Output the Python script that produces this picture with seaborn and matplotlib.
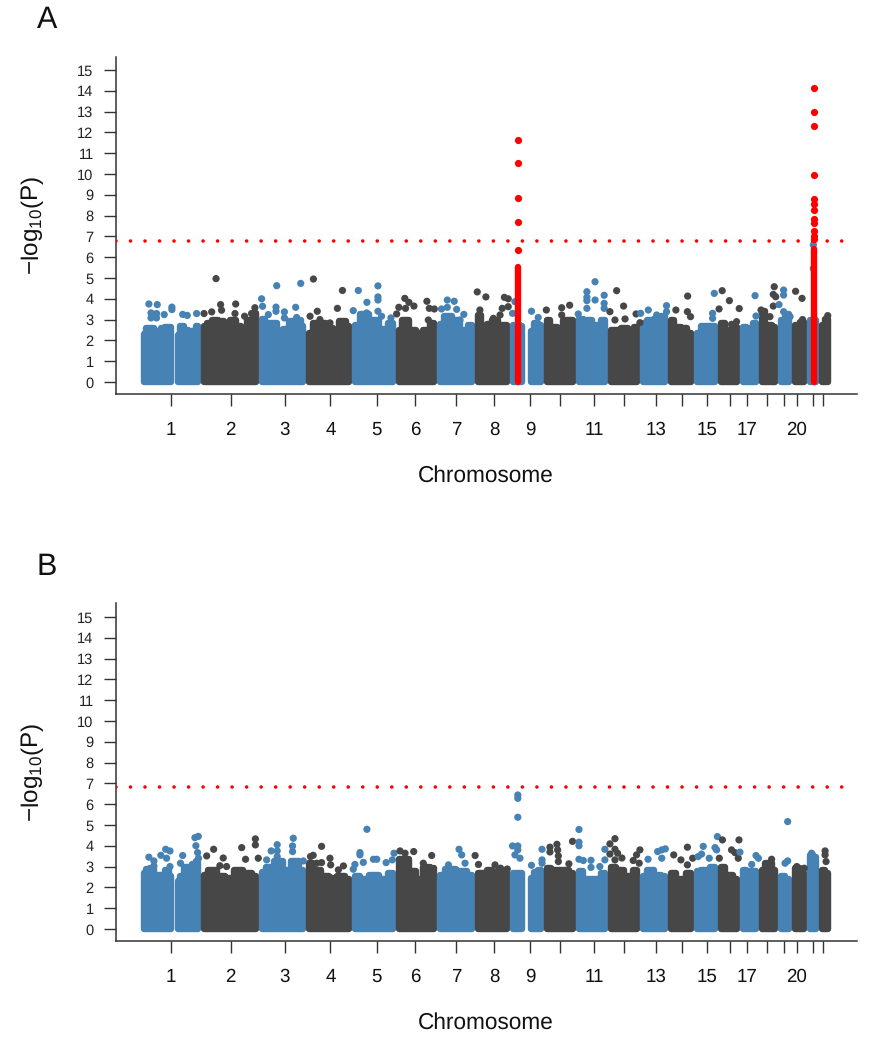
import numpy as np
import pandas as pd
import matplotlib
matplotlib.use("Agg")
import matplotlib.pyplot as plt
import seaborn as sns

# chromosome sizes (Mb), tick positions along the genome (Mb)
chrom_mb = [249, 243, 198, 191, 181, 171, 159, 146, 141, 135, 135, 133, 115, 107, 102, 90, 81, 78, 59, 63, 48, 51]
tick_mb = [125, 374, 599, 790, 982, 1144, 1314, 1473, 1622, 1747, 1889, 2013, 2147, 2255, 2359, 2454, 2525, 2608, 2679, 2733, 2800, 2845]
tick_txt = ["1", "2", "3", "4", "5", "6", "7", "8", "9", "", "11", "", "13", "", "15", "", "17", "", "", "20", "", ""]
threshold = 6.8
nan = float("nan")

# top of the solid mass of SNPs in each chromosome, read left to right (nan = centromere gap)
a_mass = [
    [2.3, 2.6, 2.6, 2.45, 2.45, 2.6, 2.65, 2.65, nan, 2.25, 2.7, 2.5, 2.45, 2.45, 2.7],
    [2.7, 2.85, 3.0, 2.95, 2.75, 3.0, 2.7, 2.3, 3.0, 3.3],
    [3.05, 2.85, 2.85, 2.35, 2.55, 2.95, 3.0, 2.7],
    [2.35, 2.85, 2.85, 2.6, 2.35, 2.95, 2.7],
    [2.75, 3.25, 3.0, 2.55, 2.85],
    [2.5, 3.0, 2.5, 2.35, 2.5, 2.85],
    [2.8, 3.15, 3.0, 2.5, 2.75],
    [3.2, 2.5, 2.8, 3.0, 2.75, 2.75],
    [2.75, 2.75, 2.7, nan, 2.45, 2.85, 2.75],
    [3.0, 2.65, 2.6, 3.0, 3.0],
    [3.05, 3.0, 2.75, 3.0],
    [2.5, 2.5, 2.6, 2.45, 2.65],
    [2.85, 3.0, 3.05, 3.15],
    [3.0, 2.65, 2.6, 2.35],
    [2.35, 2.7, 2.7],
    [2.85, 2.5, 2.65],
    [2.65, 2.6, 2.85],
    [3.4, 2.75, 2.65],
    [3.0, 3.25],
    [2.75, 2.9],
    [3.0, 3.0],
    [2.75, 3.05],
]
b_mass = [
    [2.7, 2.9, 2.95, 2.55, 2.6, 2.6, 2.85, 2.55, nan, 2.3, 2.55, 3.0, 3.0, 3.1, 3.25],
    [2.6, 2.85, 2.55, 2.45, 2.85, 2.7, 2.55],
    [2.75, 3.0, 3.25, 2.85, 3.25, 2.85],
    [3.15, 2.85, 2.55, 2.45, 2.55, 2.4],
    [2.55, 2.4, 2.6, 2.4, 2.7],
    [3.35, 3.35, 2.8, 2.4, 3.0, 2.95],
    [2.6, 2.9, 2.8, 2.6],
    [2.7, 2.7, 2.85, 2.7, 2.85, 2.7],
    [2.7, 2.7, 2.7, nan, 2.45, 2.75, 2.85],
    [2.95, 2.85, 2.85, 2.7],
    [2.8, 2.4, 2.4, 2.7],
    [3.0, 2.85, 2.55, 2.85],
    [2.55, 2.85, 2.6, 2.55],
    [2.7, 2.4, 2.7],
    [2.8, 2.85, 3.0],
    [3.0, 2.6, 2.4],
    [2.85, 2.8, 2.8],
    [2.85, 3.15, 2.85],
    [2.55, 2.4],
    [2.95, 2.7],
    [3.55, 3.45],
    [2.85, 2.7],
]

# single SNPs standing above the mass
a_snp_mb = [33, 68, 42, 65, 42, 65, 97, 129, 129, 174, 193, 232,
            313, 332, 336, 395, 392, 432, 475, 461, 295, 263,
            503, 507, 566, 563, 563, 531, 598, 598, 666, 645, 649,
            719, 819, 735, 705, 840, 885, 746, 788,
            906, 942, 988, 988, 988, 988, 941, 1003, 1042, 1066,
            1100, 1075, 1117, 1138, 1103, 1192, 1202, 1223, 1198,
            1277, 1306, 1253, 1277, 1316, 1346, 1330,
            1402, 1438, 1515, 1531, 1413, 1506, 1531, 1469, 1497,
            1559, 1549, 1628, 1656, 1690, 1754, 1754, 1787, 1823,
            1859, 1859, 1859, 1859, 1893, 1893, 1931, 1931, 1931,
            1983, 1955, 2012, 1976, 2018, 2064, 2083, 2080,
            2115, 2150, 2191, 2191, 2230, 2279, 2278, 2291,
            2390, 2383, 2383, 2423, 2410, 2453, 2462, 2483,
            2494, 2560, 2564, 2585, 2640, 2636, 2646, 2636, 2622,
            2660, 2679, 2679, 2679, 2706, 2729, 2756, 2758, 2803, 2803, 2863]
a_snp_p = [3.75, 3.72, 3.32, 3.29, 3.08, 3.08, 3.24, 3.6, 3.48, 3.25, 3.2, 3.29,
           4.97, 3.72, 3.45, 3.75, 3.29, 3.16, 3.57, 3.29, 3.37, 3.29,
           4.0, 3.64, 4.63, 3.6, 3.4, 3.24, 3.37, 3.08, 4.74, 3.59, 3.1,
           4.95, 3.54, 3.4, 3.16, 4.4, 3.43, 3.0, 2.84,
           4.4, 3.83, 4.62, 4.09, 3.94, 3.4, 3.32, 3.16, 3.08, 3.27,
           4.02, 3.59, 3.83, 3.65, 3.54, 3.88, 3.54, 3.51, 2.98,
           3.94, 3.88, 3.51, 3.59, 3.49, 3.25, 2.98,
           4.33, 4.09, 4.07, 4.0, 3.46, 3.54, 3.62, 3.06, 3.22,
           3.86, 3.3, 3.4, 3.1, 3.46, 3.57, 3.22, 3.69, 3.27,
           4.34, 4.07, 3.91, 3.54, 4.82, 3.94, 4.17, 3.78, 3.54,
           4.39, 3.38, 3.65, 2.98, 3.03, 3.27, 3.3, 2.85,
           3.46, 3.22, 3.67, 3.38, 3.46, 4.13, 3.38, 3.14,
           4.26, 3.3, 3.06, 4.39, 3.51, 3.91, 2.77, 2.9,
           3.53, 4.15, 3.17, 3.46, 4.58, 4.21, 4.1, 3.65, 3.14,
           3.72, 4.42, 4.18, 3.38, 3.14, 4.36, 4.02, 3.0, 6.59, 5.46, 3.19]
b_snp_mb = [33, 54, 54, 83, 103, 121, 107, 121, 174, 165, 225, 239, 229, 236, 240,
            274, 303, 343, 329, 420, 477, 477, 436, 489, 357,
            543, 568, 568, 568, 635, 632, 632, 677, 524,
            707, 718, 753, 788, 753, 733, 791, 844, 823, 885,
            942, 913, 913, 927, 892, 969, 983, 1022, 1048, 1055,
            1080, 1101, 1137, 1097, 1212, 1177,
            1326, 1337, 1393, 1282, 1351, 1407, 1476, 1499, 1527,
            1571, 1571, 1571, 1549, 1571, 1571, 1559, 1580, 1628, 1672, 1672, 1672,
            1705, 1705, 1734, 1737, 1740, 1740, 1784, 1799,
            1826, 1826, 1826, 1826, 1844, 1876, 1876, 1913, 1934, 1934,
            1955, 1955, 1976, 1976, 1987, 2005, 1976, 2052, 2066, 2080, 2077,
            2114, 2154, 2171, 2186, 2171, 2221, 2251, 2278, 2300, 2278,
            2323, 2337, 2344, 2369, 2403, 2424, 2393, 2400, 2411, 2462, 2476, 2490,
            2493, 2497, 2564, 2546, 2574, 2629, 2696, 2696, 2685, 2734, 2765, 2796,
            2852, 2852, 2856]
b_snp_p = [3.45, 3.27, 3.03, 3.54, 3.83, 3.75, 3.4, 3.0, 3.53, 3.16, 4.39, 4.45, 4.0, 3.67, 3.4,
           3.51, 3.83, 3.41, 3.04, 3.91, 4.33, 4.04, 3.35, 3.4, 3.0,
           3.75, 4.05, 3.75, 3.48, 4.36, 3.99, 3.72, 3.27, 3.32,
           3.48, 3.54, 3.97, 3.4, 3.19, 3.16, 3.08, 3.03, 2.84, 2.87,
           4.79, 3.67, 3.56, 3.2, 3.1, 3.35, 3.35, 3.19, 3.32, 3.64,
           3.75, 3.64, 3.72, 3.32, 3.53, 3.16,
           3.83, 3.56, 3.53, 3.08, 3.16, 3.1, 3.08, 2.92, 2.88,
           6.44, 6.28, 5.37, 3.99, 3.99, 3.8, 3.56, 3.4, 3.06, 3.83, 3.32, 3.16,
           3.93, 3.7, 4.07, 3.8, 3.51, 3.24, 3.13, 4.21,
           4.78, 4.17, 4.0, 3.35, 3.29, 3.3, 2.96, 3.0, 3.83, 3.32,
           4.09, 3.6, 4.34, 3.83, 3.64, 3.41, 3.32, 3.29, 3.56, 3.8, 3.16,
           3.35, 3.72, 3.8, 3.85, 3.4, 3.56, 3.32, 3.93, 3.4, 3.08,
           3.48, 3.6, 3.97, 3.4, 4.44, 4.28, 3.91, 3.8, 3.4, 3.8, 3.67, 3.4,
           4.28, 3.69, 3.53, 3.1, 3.4, 3.35, 5.16, 3.27, 3.16, 3.0, 2.92, 3.64,
           3.75, 3.56, 3.24]

# associated loci in panel A (red)
hit9_mb = 1572
hit9_p = [11.65, 10.53, 8.86, 7.67, 6.33]
hit9_runs = [(0, 2.75), (2.95, 5.55)]
hit21_mb = 2804
hit21_p = [14.15, 13.0, 12.31, 9.97, 8.81, 8.54, 8.27, 7.82, 7.63, 7.27, 7.03, 6.86]
hit21_runs = [(0, 6.4)]

BLUE = "#4682B4"
DARK = "#474747"
RED = "#FF0000"
W, H = 872, 1050

sns.set_theme(style="ticks")
plt.rcParams["font.family"] = ["Liberation Sans", "DejaVu Sans"]
plt.rcParams["mathtext.default"] = "regular"
plt.rcParams["lines.scale_dashes"] = False
plt.rcParams["text.hinting"] = "no_hinting"

chrom_end = np.cumsum(chrom_mb)
chrom_start = chrom_end - np.array(chrom_mb)


def draw_panel(ax, mass, snp_mb, snp_p, ymin, ymax):
    dot = 4.6
    inset = 12.5  # half a dot, in Mb, so the stroke stops at the chromosome edge
    for i, top in enumerate(mass):
        col = BLUE if i % 2 == 0 else DARK
        xs = np.linspace(chrom_start[i] + inset, chrom_end[i] - inset, len(top))
        top = np.array(top)
        ax.fill_between(xs, np.where(np.isnan(top), np.nan, 0), top, color=col, lw=dot, step="mid",
                        joinstyle="round", capstyle="round", zorder=2)

    df = pd.DataFrame({"pos": snp_mb, "p": snp_p})
    df["chrom"] = np.searchsorted(chrom_end, df["pos"])
    df["band"] = np.where(df["chrom"] % 2 == 0, "odd", "even")
    sns.scatterplot(data=df, x="pos", y="p", hue="band", palette={"odd": BLUE, "even": DARK},
                    s=27, linewidth=0, legend=False, ax=ax, zorder=3)

    ax.axhline(threshold, xmin=0, xmax=0.981, color=RED, lw=2.6,
               ls=(0, (0.01, 10.44)), dash_capstyle="round", zorder=5)

    ax.set_xlim(-104, 2985)
    ax.set_ylim(ymin, ymax)
    ax.set_xticks(tick_mb)
    ax.set_xticklabels(tick_txt, fontsize=13.5)
    ax.set_yticks(range(0, 16))
    ax.tick_params(axis="x", length=8.6, width=1, color="#333333", pad=11, labelcolor="#111111")
    ax.tick_params(axis="y", length=8.6, width=1, color="#333333", pad=7.5, labelsize=10.5,
                   labelcolor="#222222")
    ax.set_xlabel("Chromosome", fontsize=16.3, color="#111111", va="center")
    ax.set_ylabel("\u2212log$_{10}$(P)", fontsize=17.5, color="#111111", va="center")
    ax.xaxis.set_label_coords((486 - 116) / 741, -82 / 337)
    ax.yaxis.set_label_coords(-83 / 741, 0.5)
    for side in ["left", "bottom"]:
        ax.spines[side].set_linewidth(1.1)
        ax.spines[side].set_color("#333333")
    sns.despine(ax=ax)


fig = plt.figure(figsize=(W / 100, H / 100), dpi=100)
ax_a = fig.add_axes([116 / W, 1 - 394 / H, 741 / W, 337 / H])
ax_b = fig.add_axes([116 / W, 1 - 941 / H, 741 / W, 338 / H])

draw_panel(ax_a, a_mass, a_snp_mb, a_snp_p, -0.58, 15.63)
draw_panel(ax_b, b_mass, b_snp_mb, b_snp_p, -0.58, 15.67)

for mb, vals, runs in [(hit9_mb, hit9_p, hit9_runs), (hit21_mb, hit21_p, hit21_runs)]:
    sns.scatterplot(x=[mb] * len(vals), y=vals, color=RED, s=27, linewidth=0, legend=False,
                    ax=ax_a, zorder=6)
    for lo, hi in runs:
        ax_a.vlines(mb, lo, hi, color=RED, lw=4.6, capstyle="round", zorder=6)

fig.text(47 / W, 1 - 20 / H, "A", fontsize=22, ha="center", va="center", color="#111111")
fig.text(47 / W, 1 - 567 / H, "B", fontsize=22, ha="center", va="center", color="#111111")

fig.savefig("out.png", dpi=100, facecolor="white")
